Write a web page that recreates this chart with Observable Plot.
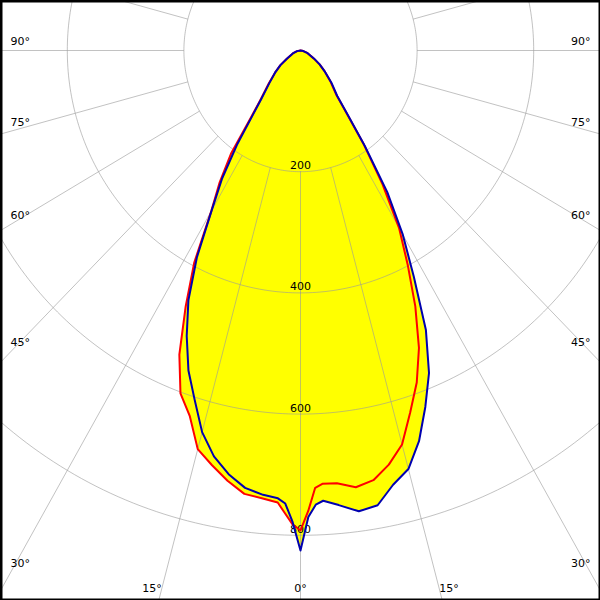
<!DOCTYPE html>
<html>
<head>
<meta charset="utf-8">
<script src="https://cdn.jsdelivr.net/npm/d3@7"></script>
<script src="https://cdn.jsdelivr.net/npm/@observablehq/plot@0.6"></script>
<style>
  html, body { margin: 0; padding: 0; background: #fff; }
  #chart { width: 600px; height: 600px; }
</style>
</head>
<body>
<div id="chart"></div>
<script>
// Polar angles (degrees from nadir) at which intensities were read
const angles = [0,1,2,3,5,7.5,10,12.5,15,17.5,20,22.5,25,27.5,30,32.5,35,37.5,40,45,50,55,60,70,80,90];
// Red curve (cd) – left half and right half
const redLeft  = [792,782,764,747,742,738,721,701,681,632,602,543,466,395,306,258,208,140,108,77,57,42,27,14,6,0];
const redRight = [792,760,722,716,717,727,720,700,673,626,583,531,466,398,338,262,190,128,96,73,55,40,26,13,5,0];
// Blue curve (cd) – left half and right half
const blueLeft  = [825,778,748,740,736,728,710,686,652,604,562,510,455,385,305,250,190,135,105,75,57,42,27,14,6,0];
const blueRight = [825,770,750,744,753,767,762,734,715,676,626,576,509,421,351,277,192,131,98,75,55,40,27,13,5,0];

// Grid
const rings = [200, 400, 600, 800];
const ringLabels = ["200", "400", "600", "800"];
const spokeAngles = d3.range(0, 360, 15);
const sideLabelAngles = [90, 75, 60, 45, 30];
const bottomLabelAngles = [-15, 0, 15];

// Layout
const W = 600, H = 600;
const CX = 300, CY = 50;          // pole position in pixels
const SX = 0.583, SY = 0.606;     // px per cd horizontally / vertically

const rad = d => d * Math.PI / 180;
function polar(angle, r) { // angle from nadir, positive to the right
  return {x: r * Math.sin(rad(angle)), y: -r * Math.cos(rad(angle))};
}
function curve(left, right) {
  const pts = [];
  for (let i = angles.length - 1; i >= 0; i--) pts.push(polar(-angles[i], left[i]));
  for (let i = 1; i < angles.length; i++) pts.push(polar(angles[i], right[i]));
  return pts;
}
const redPts = curve(redLeft, redRight);
const bluePts = curve(blueLeft, blueRight);

const circlePts = rings.flatMap(r => d3.range(0, 361, 1).map(a => ({...polar(a, r), ring: r})));
const spokes = spokeAngles.map(a => {
  const p0 = polar(a, 200), p1 = polar(a, 2000);
  return {x1: p0.x, y1: p0.y, x2: p1.x, y2: p1.y};
});

// side labels: where spoke meets x = 10 px from edge
const xEdge = (CX - 10) / SX;
const sideY = a => (a === 90 ? 0 : -xEdge / Math.tan(rad(a)));
const leftLabels = sideLabelAngles.map(a => ({x: -xEdge, y: sideY(a), text: a + "°"}));
const rightLabels = sideLabelAngles.map(a => ({x: xEdge, y: sideY(a), text: a + "°"}));
const yBottom = (588 - CY) / SY;
const bottomLabels = bottomLabelAngles.map(a => ({
  x: yBottom * Math.tan(rad(a)), y: -yBottom, text: Math.abs(a) + "°", a
}));
const ringText = rings.map((r, i) => ({x: 0, y: -r, text: ringLabels[i]}));

const gridStyle = {stroke: "#9a9a9a", strokeOpacity: 0.6, strokeWidth: 1, clip: true};

const plot = Plot.plot({
  width: W, height: H,
  margin: 0,
  x: {domain: [-CX / SX, (W - CX) / SX], axis: null},
  y: {domain: [-(H - CY) / SY, CY / SY], axis: null},
  style: {fontFamily: "DejaVu Sans", fontSize: "11px", background: "#fff", color: "#000"},
  marks: [
    Plot.line(redPts, {x: "x", y: "y", fill: "#ffff00", stroke: "none", curve: "linear"}),
    Plot.line(bluePts, {x: "x", y: "y", fill: "#ffff00", stroke: "none", curve: "linear"}),
    Plot.line(circlePts, {x: "x", y: "y", z: "ring", ...gridStyle}),
    Plot.link(spokes, {x1: "x1", y1: "y1", x2: "x2", y2: "y2", ...gridStyle}),
    Plot.text(ringText, {x: "x", y: "y", text: "text", dy: -6, fill: "#000", fontSize: 11}),
    Plot.line(redPts, {x: "x", y: "y", stroke: "#ff0000", strokeWidth: 2, curve: "linear"}),
    Plot.line(bluePts, {x: "x", y: "y", stroke: "#0000b0", strokeWidth: 2, curve: "linear"}),
    Plot.text(leftLabels, {x: "x", y: "y", text: "text", textAnchor: "start", dy: -9, fill: "#000", fontSize: 11}),
    Plot.text(rightLabels, {x: "x", y: "y", text: "text", textAnchor: "end", dy: -9, fill: "#000", fontSize: 11}),
    Plot.text(bottomLabels.filter(d => d.a < 0), {x: "x", y: "y", text: "text", textAnchor: "end", fill: "#000", fontSize: 11}),
    Plot.text(bottomLabels.filter(d => d.a === 0), {x: "x", y: "y", text: "text", textAnchor: "middle", fill: "#000", fontSize: 11}),
    Plot.text(bottomLabels.filter(d => d.a > 0), {x: "x", y: "y", text: "text", textAnchor: "start", fill: "#000", fontSize: 11}),
    Plot.frame({stroke: "#000", strokeWidth: 4})
  ]
});
document.getElementById("chart").appendChild(plot);
</script>
</body>
</html>
